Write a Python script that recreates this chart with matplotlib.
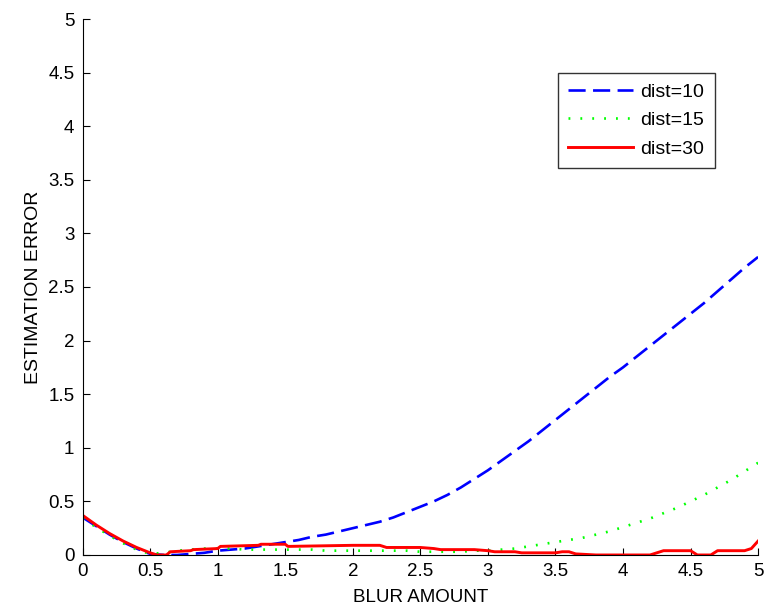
import numpy as np
import matplotlib.pyplot as plt

plt.rcParams['font.family'] = ['Liberation Sans', 'DejaVu Sans']

blur = [0.0, 0.1, 0.2, 0.3, 0.4, 0.5, 0.6, 0.7, 0.8, 0.9,
        1.0, 1.1, 1.2, 1.3, 1.4, 1.5, 1.6, 1.7, 1.8, 1.9,
        2.0, 2.1, 2.2, 2.3, 2.4, 2.5, 2.6, 2.7, 2.8, 2.9,
        3.0, 3.1, 3.2, 3.3, 3.4, 3.5, 3.6, 3.7, 3.8, 3.9,
        4.0, 4.1, 4.2, 4.3, 4.4, 4.5, 4.6, 4.7, 4.8, 4.9, 5.0]

dist10 = [0.35, 0.27, 0.19, 0.12, 0.06, 0.01, 0.00, 0.00, 0.01, 0.02,
          0.04, 0.05, 0.06, 0.08, 0.10, 0.12, 0.14, 0.17, 0.19, 0.22,
          0.25, 0.28, 0.31, 0.35, 0.40, 0.45, 0.50, 0.56, 0.63, 0.71,
          0.79, 0.88, 0.97, 1.06, 1.16, 1.26, 1.36, 1.46, 1.56, 1.66,
          1.75, 1.85, 1.95, 2.05, 2.15, 2.25, 2.35, 2.46, 2.57, 2.68, 2.78]

dist15 = [0.34, 0.26, 0.18, 0.11, 0.05, 0.01, 0.02, 0.04, 0.05, 0.06,
          0.06, 0.06, 0.05, 0.05, 0.05, 0.05, 0.05, 0.05, 0.04, 0.04,
          0.04, 0.04, 0.04, 0.04, 0.04, 0.03, 0.03, 0.03, 0.03, 0.04,
          0.04, 0.05, 0.06, 0.08, 0.10, 0.12, 0.14, 0.16, 0.19, 0.22,
          0.26, 0.30, 0.34, 0.39, 0.44, 0.50, 0.56, 0.63, 0.70, 0.78, 0.86]

blur30 = [0.0, 0.1, 0.2, 0.3, 0.4, 0.5, 0.55, 0.62, 0.65, 0.8, 0.82,
          1.0, 1.02, 1.3, 1.32, 1.5, 1.52, 2.0, 2.2, 2.25, 2.5, 2.6, 2.65,
          2.9, 3.0, 3.05, 3.2, 3.25, 3.5, 3.55, 3.6, 3.65, 3.8, 4.2, 4.25,
          4.3, 4.5, 4.55, 4.65, 4.7, 4.9, 4.95, 5.0]
dist30 = [0.37, 0.28, 0.20, 0.13, 0.07, 0.02, 0.00, 0.00, 0.03, 0.04, 0.05,
          0.06, 0.08, 0.09, 0.10, 0.10, 0.08, 0.09, 0.09, 0.07, 0.07, 0.06, 0.05,
          0.05, 0.04, 0.03, 0.03, 0.02, 0.02, 0.03, 0.03, 0.01, 0.00, 0.00, 0.02,
          0.04, 0.04, 0.00, 0.00, 0.04, 0.04, 0.06, 0.13]

tick_labels = ["0", "0.5", "1", "1.5", "2", "2.5", "3", "3.5", "4", "4.5", "5"]

fig = plt.figure(figsize=(7.72, 6.15), dpi=100)
ax = fig.add_axes([0.107, 0.0976, 0.875, 0.8715])

ax.plot(blur, dist10, color="#0000ff", lw=1.9, dashes=(6.5, 2.8), label="dist=10")
ax.plot(blur, dist15, color="#00ff00", lw=1.9, dashes=(0.7, 3.8), label="dist=15")
ax.plot(blur30, dist30, color="#ff0000", lw=2.1, label="dist=30")

ax.set_xlim(0, 5)
ax.set_ylim(0, 5)
ax.set_xticks(np.arange(0, 5.01, 0.5))
ax.set_yticks(np.arange(0, 5.01, 0.5))
ax.set_xticklabels(tick_labels)
ax.set_yticklabels(tick_labels)
ax.tick_params(direction="in", length=5, labelsize=13.5, pad=6)

ax.spines["top"].set_visible(False)
ax.spines["right"].set_visible(False)

ax.set_xlabel("BLUR AMOUNT", fontsize=13.5, labelpad=6)
ax.set_ylabel("ESTIMATION ERROR", fontsize=14, labelpad=4)

leg = ax.legend(loc="upper left", bbox_to_anchor=(0.689, 0.918), fontsize=14,
                fancybox=False, edgecolor="#333333", framealpha=1,
                handlelength=3.3, borderpad=0.55, labelspacing=0.55, handletextpad=0.4)
leg.get_frame().set_linewidth(1.0)

plt.savefig("out.png", dpi=100)
plt.close()
